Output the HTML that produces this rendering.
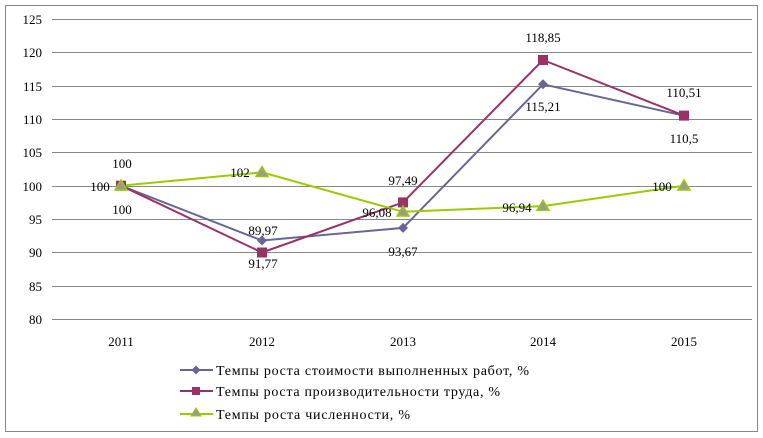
<!DOCTYPE html>
<html><head><meta charset="utf-8"><style>
body{margin:0;background:#fff;}
svg{display:block;font-family:"Liberation Serif",serif;}
</style></head><body>
<svg width="763" height="438" viewBox="0 0 763 438">
<rect x="5.5" y="5.5" width="752" height="426" fill="#fff" stroke="#888" stroke-width="1"/>
<g stroke="#888" stroke-width="1">
<line x1="52" x2="752" y1="19.5" y2="19.5"/>
<line x1="52" x2="752" y1="52.5" y2="52.5"/>
<line x1="52" x2="752" y1="86.5" y2="86.5"/>
<line x1="52" x2="752" y1="119.5" y2="119.5"/>
<line x1="52" x2="752" y1="152.5" y2="152.5"/>
<line x1="52" x2="752" y1="186.5" y2="186.5"/>
<line x1="52" x2="752" y1="219.5" y2="219.5"/>
<line x1="52" x2="752" y1="252.5" y2="252.5"/>
<line x1="52" x2="752" y1="286.5" y2="286.5"/>
<line x1="52" x2="752" y1="319.5" y2="319.5"/>
</g>
<g font-size="13" text-anchor="end" fill="#000">
<text x="42" y="24">125</text><text x="42" y="57">120</text><text x="42" y="91">115</text>
<text x="42" y="124">110</text><text x="42" y="157">105</text><text x="42" y="191">100</text>
<text x="42" y="224">95</text><text x="42" y="257">90</text><text x="42" y="291">85</text>
<text x="42" y="324">80</text>
</g>
<g font-size="13" text-anchor="middle">
<text x="121" y="346">2011</text><text x="262" y="346">2012</text><text x="403" y="346">2013</text>
<text x="543" y="346">2014</text><text x="684" y="346">2015</text>
</g>
<polyline fill="none" stroke="#666699" stroke-width="2" points="121,185.7 262,240.5 403,227.9 543,84.3 684,115.7"/>
<polyline fill="none" stroke="#993366" stroke-width="2" points="121,185.7 262,252.5 403,202.4 543,60 684,115.6"/>
<polyline fill="none" stroke="#99cc00" stroke-width="2" points="121,185.7 262,172.3 403,211.8 543,206.1 684,185.7"/>
<g fill="#666699">
<path d="M121,180.7 l5,5 -5,5 -5,-5z"/><path d="M262,235.5 l5,5 -5,5 -5,-5z"/><path d="M403,222.9 l5,5 -5,5 -5,-5z"/><path d="M543,79.3 l5,5 -5,5 -5,-5z"/><path d="M684,110.7 l5,5 -5,5 -5,-5z"/>
</g>
<g fill="#993366">
<rect x="116" y="180.7" width="10" height="10"/><rect x="257" y="247.5" width="10" height="10"/><rect x="398" y="197.4" width="10" height="10"/><rect x="538" y="55" width="10" height="10"/><rect x="679" y="110.6" width="10" height="10"/>
</g>
<g fill="#999" stroke="#99cc00" stroke-width="1.5">
<path d="M121,180 l6,10 h-12z"/><path d="M262,166.5 l6,10 h-12z"/><path d="M403,206 l6,10 h-12z"/><path d="M543,200.3 l6,10 h-12z"/><path d="M684,180 l6,10 h-12z"/>
</g>
<g font-size="13" text-anchor="middle" fill="#000">
<text x="122" y="168">100</text><text x="100" y="191">100</text><text x="122" y="214">100</text>
<text x="240" y="177">102</text><text x="263" y="235">89,97</text><text x="263" y="268">91,77</text>
<text x="403" y="185">97,49</text><text x="377" y="217">96,08</text><text x="403" y="256">93,67</text>
<text x="543" y="42">118,85</text><text x="543" y="111">115,21</text><text x="517" y="212">96,94</text>
<text x="684" y="97">110,51</text><text x="684" y="143">110,5</text><text x="662" y="191">100</text>
</g>
<g font-size="14" fill="#000">
<line x1="180" x2="213" y1="370" y2="370" stroke="#666699" stroke-width="2"/><path d="M196,365.5 l4.5,4.5 -4.5,4.5 -4.5,-4.5z" fill="#666699"/>
<text x="216" y="375" textLength="313" lengthAdjust="spacing">Темпы роста стоимости выполненных работ, %</text>
<line x1="180" x2="213" y1="391" y2="391" stroke="#993366" stroke-width="2"/><rect x="192" y="387" width="8" height="8" fill="#993366"/>
<text x="216" y="396" textLength="284" lengthAdjust="spacing">Темпы роста производительности труда, %</text>
<line x1="180" x2="213" y1="414" y2="414" stroke="#99cc00" stroke-width="2"/><path d="M196,408 l5,8 h-10z" fill="#999" stroke="#99cc00"/>
<text x="216" y="419" textLength="194" lengthAdjust="spacing">Темпы роста численности, %</text>
</g>
</svg>
</body></html>
